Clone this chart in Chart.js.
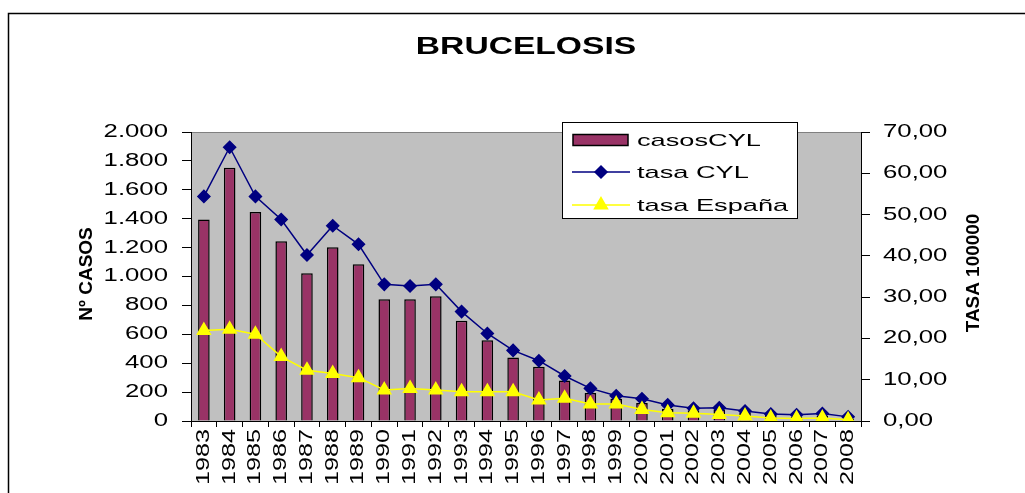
<!DOCTYPE html>
<html>
<head>
<meta charset="utf-8">
<script src="https://cdn.jsdelivr.net/npm/chart.js@4.4.1/dist/chart.umd.min.js"></script>
<style>
  html, body { margin: 0; padding: 0; background: #fff; }
  canvas { display: block; }
</style>
</head>
<body>
<canvas id="brucelosis-chart" width="1025" height="493"></canvas>
<script>
const years = ['1983', '1984', '1985', '1986', '1987', '1988', '1989', '1990', '1991', '1992',
    '1993', '1994', '1995', '1996', '1997', '1998', '1999', '2000', '2001', '2002',
    '2003', '2004', '2005', '2006', '2007', '2008'];

const casosCYL = [1394, 1753, 1447, 1244, 1023, 1203, 1085, 843, 843, 864,
    693, 558, 440, 376, 281, 194, 154, 124, 85, 75,
    80, 55, 45, 30, 35, 15];

const tasaCYL = [54.4, 66.3, 54.4, 48.8, 40.2, 47.3, 42.8, 33.1, 32.7, 33.1,
    26.5, 21.2, 17.1, 14.6, 10.9, 7.9, 6.1, 5.4, 3.9, 3.1,
    3.2, 2.4, 1.7, 1.5, 1.8, 1.0];

const tasaEspana = [21.9, 22.2, 21.0, 15.6, 12.3, 11.5, 10.5, 7.5, 7.9, 7.5,
    7.1, 7.1, 7.1, 5.1, 5.5, 4.1, 4.1, 2.8, 2.0, 1.9,
    1.6, 1.2, 0.7, 0.6, 0.7, 0.3];

const casosTicks = [0, 200, 400, 600, 800, 1000, 1200, 1400, 1600, 1800, 2000];
const tasaTicks = [0, 10, 20, 30, 40, 50, 60, 70];

const FONT = "'Liberation Sans', Arial, sans-serif";

const canvas = document.getElementById('brucelosis-chart');
const ctx = canvas.getContext('2d');

// the source picture has its text stretched along the writing direction
ctx.textStretch = 1.43;
const baseFillText = ctx.fillText.bind(ctx);
ctx.fillText = function (text, x, y, maxWidth) {
    const s = ctx.textStretch;
    ctx.save();
    ctx.translate(x, y);
    ctx.scale(s, 1);
    if (maxWidth === undefined) {
        baseFillText(text, 0, 0);
    } else {
        baseFillText(text, 0, 0, maxWidth / s);
    }
    ctx.restore();
};

function formatThousands(v) {
    return String(v).replace(/\B(?=(\d{3})+(?!\d))/g, '.');
}

const decorations = {
    id: 'decorations',
    afterLayout(chart) {
        const xScale = chart.scales.x;
        if (!xScale._stretched) {
            const drawLabels = xScale.drawLabels;
            xScale.drawLabels = function (area) {
                ctx.textStretch = 1.4;
                drawLabels.call(this, area);
                ctx.textStretch = 1.43;
            };
            xScale._stretched = true;
        }
    },
    beforeDraw(chart) {
        const c = chart.ctx;
        const a = chart.chartArea;
        c.save();
        c.fillStyle = '#c0c0c0';
        c.fillRect(a.left, a.top, a.right - a.left, a.bottom - a.top);
        c.strokeStyle = '#808080';
        c.lineWidth = 1;
        c.beginPath();
        c.moveTo(a.left, a.top + 0.5);
        c.lineTo(a.right, a.top + 0.5);
        c.stroke();
        // outer frame
        c.strokeStyle = '#000';
        c.lineWidth = 1.5;
        c.strokeRect(8.5, 13.5, 1100, 1000);
        c.restore();
    },
    afterDraw(chart) {
        const c = chart.ctx;
        c.save();
        c.fillStyle = '#000';

        // title
        c.textStretch = 1.4;
        c.font = 'bold 24px ' + FONT;
        c.textAlign = 'center';
        c.textBaseline = 'alphabetic';
        c.fillText('BRUCELOSIS', 526, 54);

        // axis titles
        c.textStretch = 1;
        c.font = 'bold 19px ' + FONT;
        c.textBaseline = 'middle';
        c.save();
        c.translate(87, 274);
        c.rotate(-Math.PI / 2);
        c.fillText('Nº CASOS', 0, 0);
        c.restore();

        c.textStretch = 1.05;
        c.font = 'bold 18px ' + FONT;
        c.save();
        c.translate(974, 273);
        c.rotate(-Math.PI / 2);
        c.fillText('TASA 100000', 0, 0);
        c.restore();

        // legend
        const box = {x: 562.5, y: 122.5, w: 235, h: 96};
        c.fillStyle = '#fff';
        c.fillRect(box.x, box.y, box.w, box.h);
        c.strokeStyle = '#000';
        c.lineWidth = 1;
        c.strokeRect(box.x, box.y, box.w, box.h);

        const rows = [140, 172, 205];
        const ds = chart.data.datasets;
        ds.forEach((d, i) => {
            const y = rows[i];
            if (d.type === 'bar') {
                c.fillStyle = d.backgroundColor;
                c.fillRect(573, y - 5.5, 55, 11);
                c.strokeStyle = '#000';
                c.lineWidth = 1.5;
                c.strokeRect(573, y - 5.5, 55, 11);
            } else {
                c.strokeStyle = d.borderColor;
                c.lineWidth = 1.5;
                c.beginPath();
                c.moveTo(572, y);
                c.lineTo(630, y);
                c.stroke();
                c.fillStyle = d.pointBackgroundColor;
                Chart.helpers.drawPoint(c, {
                    pointStyle: d.pointStyle,
                    radius: d.pointRadius,
                    rotation: 0,
                    borderWidth: 1
                }, 601, y);
            }
            c.textStretch = 1.6;
            c.font = '17px ' + FONT;
            c.fillStyle = '#000';
            c.textAlign = 'left';
            c.textBaseline = 'middle';
            c.fillText(d.label, 637, y + 1);
        });

        c.textStretch = 1.43;
        c.restore();
    }
};

new Chart(canvas, {
    data: {
        labels: years,
        datasets: [
            {
                type: 'bar',
                label: 'casosCYL',
                data: casosCYL,
                yAxisID: 'y',
                backgroundColor: '#993366',
                borderColor: '#000',
                borderWidth: 1.5,
                barPercentage: 0.45,
                categoryPercentage: 1,
                order: 3
            },
            {
                type: 'line',
                label: 'tasa CYL',
                data: tasaCYL,
                yAxisID: 'y1',
                borderColor: '#000080',
                backgroundColor: '#000080',
                pointBackgroundColor: '#000080',
                pointBorderColor: '#000080',
                pointStyle: 'rectRot',
                pointRadius: 6,
                borderWidth: 1.5,
                tension: 0,
                order: 2
            },
            {
                type: 'line',
                label: 'tasa España',
                data: tasaEspana,
                yAxisID: 'y1',
                borderColor: '#ffff00',
                backgroundColor: '#ffff00',
                pointBackgroundColor: '#ffff00',
                pointBorderColor: '#ffff00',
                pointStyle: 'triangle',
                pointRadius: 7.5,
                borderWidth: 1.5,
                tension: 0,
                order: 1
            }
        ]
    },
    options: {
        responsive: false,
        animation: false,
        layout: {
            padding: {top: 132, left: 0, right: 0, bottom: 0}
        },
        plugins: {
            legend: {display: false},
            title: {display: false},
            tooltip: {enabled: false}
        },
        scales: {
            x: {
                afterFit(scale) { scale.height = 72; },
                grid: {
                    drawOnChartArea: false,
                    tickLength: 6,
                    tickColor: '#000',
                    offset: true
                },
                border: {color: '#000', width: 1},
                ticks: {
                    color: '#000',
                    font: {family: FONT, size: 18},
                    minRotation: 90,
                    maxRotation: 90,
                    autoSkip: false,
                    padding: 2
                }
            },
            y: {
                position: 'left',
                min: 0,
                max: 2000,
                afterFit(scale) { scale.width = 191; },
                afterBuildTicks(scale) { scale.ticks = casosTicks.map(v => ({value: v})); },
                grid: {
                    drawOnChartArea: false,
                    tickLength: 9,
                    tickColor: '#000'
                },
                border: {color: '#000', width: 1},
                ticks: {
                    color: '#000',
                    font: {family: FONT, size: 18},
                    padding: 14,
                    callback: v => formatThousands(v)
                }
            },
            y1: {
                position: 'right',
                min: 0,
                max: 70,
                afterFit(scale) { scale.width = 164; },
                afterBuildTicks(scale) { scale.ticks = tasaTicks.map(v => ({value: v})); },
                grid: {
                    drawOnChartArea: false,
                    tickLength: 9,
                    tickColor: '#000'
                },
                border: {color: '#000', width: 1},
                ticks: {
                    color: '#000',
                    font: {family: FONT, size: 18},
                    padding: 13,
                    callback: v => v.toFixed(2).replace('.', ',')
                }
            }
        }
    },
    plugins: [decorations]
});
</script>
</body>
</html>
